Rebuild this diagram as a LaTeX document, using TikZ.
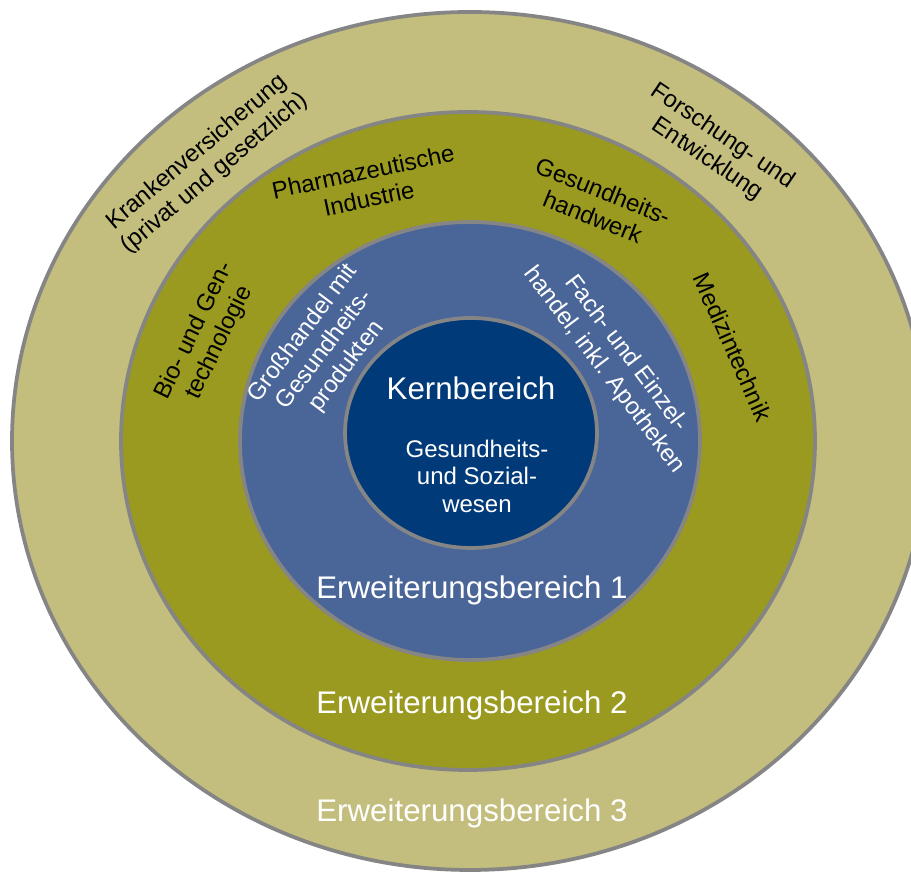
\documentclass[tikz,border=0pt]{standalone}
\usepackage{fontspec}
\setmainfont{Liberation Sans}

\definecolor{ring3}{HTML}{C3BE7D}
\definecolor{ring2}{HTML}{999A1F}
\definecolor{ring1}{HTML}{4A6699}
\definecolor{core}{HTML}{003A78}
\definecolor{rim}{HTML}{858585}

\begin{document}
\begin{tikzpicture}[x=0.03cm,y=0.03cm,
    ring/.style={draw=rim,line width=3.2pt},
    small/.style={font=\fontsize{20.5}{23.5}\selectfont},
    large/.style={font=\fontsize{26.7}{30}\selectfont}]

        \useasboundingbox (0,0) rectangle (911,875);
        \clip (0,0) rectangle (911,875);

        % rings, outside in
        \filldraw[ring,fill=ring3] (470,434) ellipse [x radius=458,y radius=429];
        \filldraw[ring,fill=ring2] (468,434) ellipse [x radius=347,y radius=329];
        \filldraw[ring,fill=ring1] (470,434) ellipse [x radius=230,y radius=219];
        \filldraw[ring,fill=core]  (471,442) ellipse [x radius=126,y radius=115];

        \begin{scope}[every node/.style={align=center,small}]
          \node (kv)   at (206,712) [rotate=40]  {Krankenversicherung\\(privat und gesetzlich)};
          \node (fe)   at (715,727) [rotate=-34] {Forschung- und\\Entwicklung};
          \node (ph)   at (366,690) [rotate=12]  {Pharmazeutische\\Industrie};
          \node (hw)   at (598,671) [rotate=-22] {Gesundheits-\\handwerk};
          \node (bio)  at (207,538) [rotate=64]  {Bio- und Gen-\\technologie};
          \node (med)  at (733,528) [rotate=-66] {Medizintechnik};
        \end{scope}

        \begin{scope}[every node/.style={align=center,small,text=white}]
          \node (gh)   at (325,525) [rotate=53]  {Großhandel mit\\Gesundheits-\\produkten};
          \node (eh)   at (615,513) [rotate=-53] {Fach- und Einzel-\\handel, inkl. Apotheken};
          \node (gs)   at (477,399) {Gesundheits-\\und Sozial-\\wesen};
        \end{scope}

        \begin{scope}[every node/.style={large,text=white}]
          \node (kern) at (471,487) {Kernbereich};
          \node (e1)   at (472,285) {Erweiterungsbereich 1};
          \node (e2)   at (472,170) {Erweiterungsbereich 2};
          \node (e3)   at (472,62)  {Erweiterungsbereich 3};
        \end{scope}

      \end{tikzpicture}
\end{document}
